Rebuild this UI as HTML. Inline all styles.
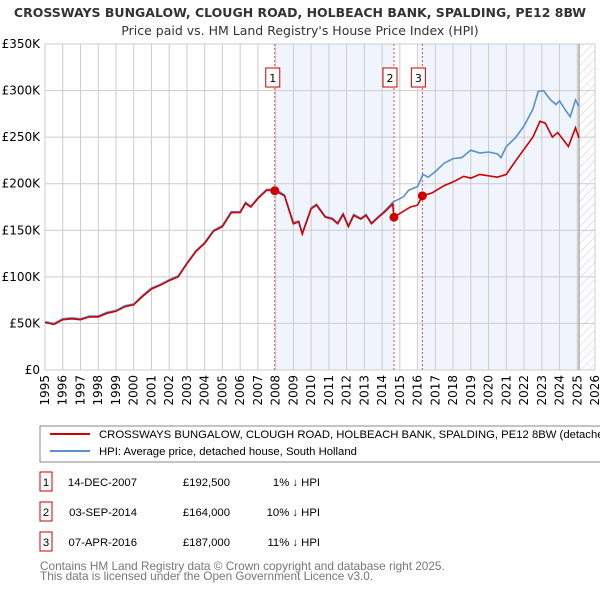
<!DOCTYPE html>
<html><head><meta charset="utf-8"><style>
body{margin:0;background:#fff;font-family:"Liberation Sans","DejaVu Sans",sans-serif;}
svg text{font-family:"DejaVu Sans","Liberation Sans",sans-serif;}
svg text.ls{font-family:"Liberation Sans","DejaVu Sans",sans-serif;}
</style></head><body>
<svg id="c" width="600" height="590" xmlns="http://www.w3.org/2000/svg">
<defs><pattern id="hatch" width="6" height="6" patternUnits="userSpaceOnUse" patternTransform="rotate(45)"><line x1="0" y1="0" x2="0" y2="6" stroke="#ccc" stroke-width="1"/></pattern></defs>
<text x="300" y="17" text-anchor="middle" font-size="12.5" font-weight="bold" fill="#333">CROSSWAYS BUNGALOW, CLOUGH ROAD, HOLBEACH BANK, SPALDING, PE12 8BW</text>
<text x="300" y="35" text-anchor="middle" font-size="12.5" fill="#333">Price paid vs. HM Land Registry's House Price Index (HPI)</text>
<g id="plot"></g>
<rect x="40" y="426" width="570" height="36" fill="#fff" stroke="#888"/>
<line x1="50" y1="434" x2="90" y2="434" stroke="#cc0000" stroke-width="2"/>
<text class="ls" x="99" y="438" font-size="11.3" fill="#000">CROSSWAYS BUNGALOW, CLOUGH ROAD, HOLBEACH BANK, SPALDING, PE12 8BW (detached house)</text>
<line x1="50" y1="451" x2="90" y2="451" stroke="#5b8fd0" stroke-width="2"/>
<text class="ls" x="99" y="455" font-size="11.3" fill="#000">HPI: Average price, detached house, South Holland</text>
<g id="table" font-size="11" fill="#000"></g>
<text class="ls" x="40" y="570" font-size="11.8" fill="#777">Contains HM Land Registry data © Crown copyright and database right 2025.</text>
<text class="ls" x="40" y="580" font-size="11.8" fill="#777">This data is licensed under the Open Government Licence v3.0.</text>
</svg>
<script>
const yTicks=[0,50,100,150,200,250,300,350];
const yTickLabels=["£0","£50K","£100K","£150K","£200K","£250K","£300K","£350K"];
const xYears=[1995,1996,1997,1998,1999,2000,2001,2002,2003,2004,2005,2006,2007,2008,2009,2010,2011,2012,2013,2014,2015,2016,2017,2018,2019,2020,2021,2022,2023,2024,2025,2026];
const hpiDates=[1995,1995.5,1996,1996.5,1997,1997.5,1998,1998.5,1999,1999.5,2000,2000.5,2001,2001.5,2002,2002.5,2003,2003.5,2004,2004.5,2005,2005.5,2006,2006.3,2006.6,2007,2007.5,2008,2008.5,2009,2009.3,2009.5,2010,2010.3,2010.8,2011.2,2011.5,2011.8,2012.1,2012.4,2012.8,2013.1,2013.4,2013.8,2014.1,2014.6,2015.2,2015.5,2016,2016.3,2016.6,2017,2017.5,2018,2018.5,2018.8,2019,2019.5,2020,2020.5,2020.7,2021,2021.5,2022,2022.5,2022.8,2023.1,2023.5,2023.8,2024,2024.3,2024.6,2024.9,2025.1];
const hpiValues=[52,50,55,56,55,58,58,62,64,69,71,80,88,92,97,101,115,128,137,150,155,170,170,180,176,185,194,194,188,158,160,147,174,178,165,163,158,168,155,167,163,167,158,165,170,180,186,193,197,210,207,213,222,227,228,233,236,233,234,232,228,240,249,262,280,299,300,290,285,289,280,272,290,283];
const priceDates=[1995,1995.5,1996,1996.5,1997,1997.5,1998,1998.5,1999,1999.5,2000,2000.5,2001,2001.5,2002,2002.5,2003,2003.5,2004,2004.5,2005,2005.5,2006,2006.3,2006.6,2007,2007.5,2007.95,2008.5,2009,2009.3,2009.5,2010,2010.3,2010.8,2011.2,2011.5,2011.8,2012.1,2012.4,2012.8,2013.1,2013.4,2013.8,2014.1,2014.6,2014.67,2015,2015.6,2016,2016.27,2016.8,2017.5,2018,2018.6,2019,2019.5,2020.5,2021,2021.5,2022,2022.5,2022.9,2023.2,2023.6,2023.9,2024.5,2024.9,2025.1];
const priceValues=[51,49,54,55,54,57,57,61,63,68,70,79,87,91,96,100,114,127,136,149,154,169,169,179,175,184,193,192.5,187,157,159,146,173,177,164,162,157,167,154,166,162,166,157,164,169,178,164,168,175,177,187,190,198,202,208,206,210,207,210,224,237,250,267,265,250,255,240,260,249];
const saleDates=[2007.95,2014.67,2016.27];
const salePrices=[192.5,164,187];
const saleLabels=["1","2","3"];
const saleDateText=["14-DEC-2007","03-SEP-2014","07-APR-2016"];
const salePriceText=["£192,500","£164,000","£187,000"];
const saleDiffText=["1% ↓ HPI","10% ↓ HPI","11% ↓ HPI"];

const X0=45,X1=595,Y0=370,Y1=44;
const xs=v=>X0+(v-1995)/(2026-1995)*(X1-X0);
const ys=v=>Y0-v/350*(Y0-Y1);
const NS="http://www.w3.org/2000/svg";
const plot=document.getElementById('plot');
function mk(tag,attrs,parent){const e=document.createElementNS(NS,tag);for(const k in attrs)e.setAttribute(k,attrs[k]);(parent||plot).appendChild(e);return e;}
let r=mk('rect',{x:xs(saleDates[0]),y:Y1,width:xs(saleDates[1])-xs(saleDates[0]),height:Y0-Y1,fill:'#f0f4fd'});


r=mk('rect',{x:xs(saleDates[2])-3,y:Y1,width:xs(2025.1)-xs(saleDates[2])+3,height:Y0-Y1,fill:'#f0f4fd'});


r=mk('rect',{x:xs(2025.1),y:Y1,width:X1-xs(2025.1),height:Y0-Y1,fill:'url(#hatch)'});


yTicks.forEach((t,i)=>{
 const l=mk('line',{x1:X0,x2:X1,y1:ys(t),y2:ys(t),stroke:'#ccc','stroke-width':1});
 
 
 const tx=mk('text',{x:X0-5,y:ys(t)+4,'text-anchor':'end','font-size':12,fill:'#000'});
 tx.textContent=yTickLabels[i];
 
 
});
xYears.forEach(y=>{
 const l=mk('line',{x1:xs(y),x2:xs(y),y1:Y1,y2:Y0,stroke:'#ccc','stroke-width':1});
 
 
 const tx=mk('text',{x:0,y:0,'font-size':12,fill:'#000','text-anchor':'end',transform:`translate(${xs(y)+4},${Y0+5}) rotate(-90)`});
 tx.textContent=y;
 
 
});
let l=mk('line',{x1:xs(2025.1),x2:xs(2025.1),y1:Y1,y2:Y0,stroke:'#999','stroke-width':1.2});


saleDates.forEach((d,i)=>{
 const v=mk('line',{x1:xs(d),x2:xs(d),y1:Y1,y2:Y0,stroke:'#e05050','stroke-width':1,'stroke-dasharray':'2,2'});
 
 
 const b=mk('rect',{x:xs(d)-9-(i==0?0:2),y:68,width:14,height:19,fill:'#fff',stroke:'#cc0000'});
 
 
 const t=mk('text',{x:xs(d)-2-(i==0?0:2),y:82,'text-anchor':'middle','font-size':11,fill:'#000'});
 t.textContent=saleLabels[i];
 
 
});
function path(d,v){return d.map((x,i)=>(i?'L':'M')+xs(x).toFixed(1)+','+ys(v[i]).toFixed(1)).join('');}
let p=mk('path',{d:path(hpiDates,hpiValues),fill:'none',stroke:'#5b8fd0','stroke-width':1.6});


p=mk('path',{d:path(priceDates,priceValues),fill:'none',stroke:'#cc0000','stroke-width':1.6});


saleDates.forEach((d,i)=>{
 const c=mk('circle',{cx:xs(d),cy:ys(salePrices[i]),r:4.5,fill:'#cc0000'});
 
 
});
const tb=document.getElementById('table');
saleLabels.forEach((s,i)=>{
 const y=483+i*30;
 const b=mk('rect',{x:40,y:y-11,width:12,height:19,fill:'#fff',stroke:'#cc0000'},tb);
 
 
 const vals=[[46,s,'middle'],[137,saleDateText[i],'end'],[230,salePriceText[i],'end'],[320,saleDiffText[i],'end']];
 vals.forEach(([x,t,a],j)=>{
  const e=mk('text',{x:x,y:y+3,'text-anchor':a,'font-size':11.3,fill:'#000','class':'ls'},tb);
  e.textContent=t;
  
  
 });
});
</script>
</body></html>
